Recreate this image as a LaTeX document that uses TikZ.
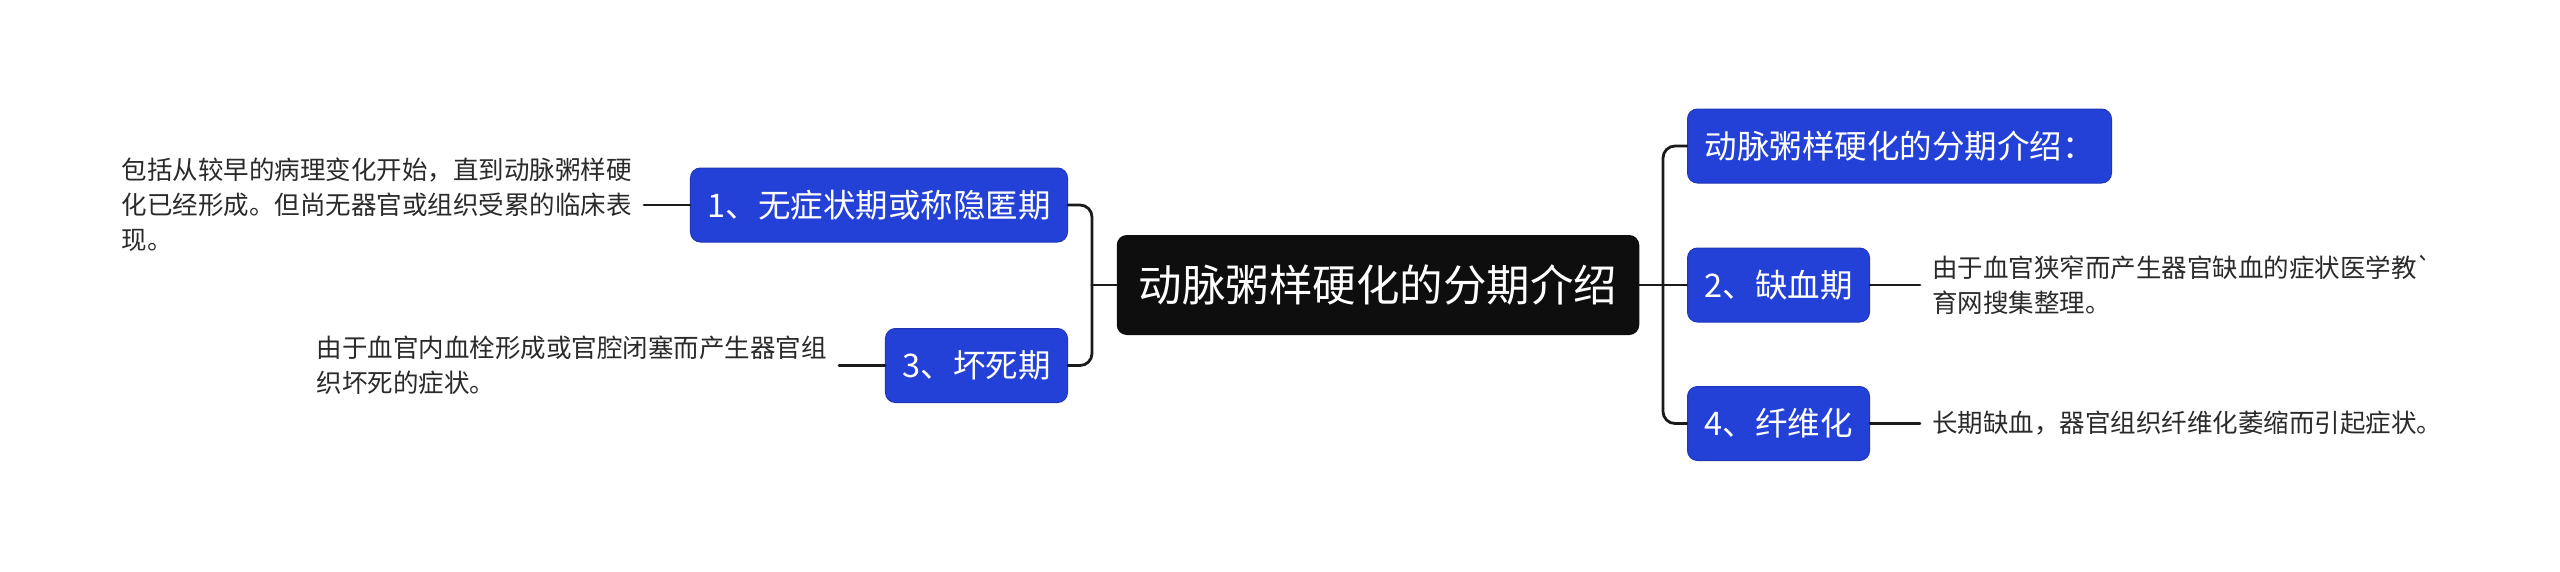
\documentclass[tikz,border=0pt]{standalone}
\usepackage{fontspec}
\setmainfont{Noto Sans CJK SC}
\newfontfamily\rawfont{Noto Sans CJK SC}

\definecolor{nodeblue}{HTML}{2441D7}
\definecolor{rootblack}{HTML}{0E0E0E}
\definecolor{linkgray}{HTML}{1A1A1A}
\definecolor{descgray}{HTML}{2A2A2A}

\begin{document}
\begin{tikzpicture}[x=1pt, y=-1pt, line cap=round, line join=round,
  rootnode/.style={fill=rootblack, rounded corners=10pt, text=white, inner xsep=22pt, minimum height=100pt, font=\fontsize{43.5}{52}\selectfont},
  subnode/.style={fill=nodeblue, draw=nodeblue!85!black, line width=1pt, rounded corners=10pt, text=white, inner xsep=17pt, minimum height=74pt, font=\fontsize{32.5}{40}\selectfont},
  desc/.style={text=descgray, align=left, inner xsep=12pt, inner ysep=0pt, font=\fontsize{25.5}{35}\selectfont},
  link/.style={draw=linkgray, line width=2.8pt, rounded corners=12pt}]

  %% ════ 中心主题 ════
  \node[rootnode] (root) at (1378,285) {动脉粥样硬化的分期介绍};

  %% ════ 左侧分支 ════
  \node[subnode, anchor=east] (stage1) at (1068,205) {1、无症状期或称隐匿期};
  \node[subnode, anchor=east] (stage3) at (1068,365.5) {3、坏死期};

  \node[desc, anchor=east] (desc1) at (644,205) {包括从较早的病理变化开始，直到动脉粥样硬\\化已经形成。但尚无器官或组织受累的临床表\\现。};
  \node[desc, anchor=east] (desc3) at (839,365.5) {由于血官内血栓形成或官腔闭塞而产生器官组\\织坏死的症状。};

  %% ════ 右侧分支 ════
  \node[subnode, anchor=west] (intro)  at (1687,146) {动脉粥样硬化的分期介绍：};
  \node[subnode, anchor=west] (stage2) at (1687,285) {2、缺血期};
  \node[subnode, anchor=west] (stage4) at (1687,423.5) {4、纤维化};

  \node[desc, anchor=west] (desc2) at (1920,285) {由于血官狭窄而产生器官缺血的症状医学教{\rawfont`}\\育网搜集整理。};
  \node[desc, anchor=west] (desc4) at (1920,423.5) {长期缺血，器官组织纤维化萎缩而引起症状。};

  %% ════ 连线 ════
  \coordinate (lhub) at (1092,285);
  \coordinate (rhub) at (1663,285);

  \draw[link] (root.west) -- (lhub);
  \draw[link] (lhub) |- (stage1.east);
  \draw[link] (lhub) |- (stage3.east);

  \draw[link] (root.east) -- (rhub);
  \draw[link] (rhub) |- (intro.west);
  \draw[link] (rhub) -- (stage2.west);
  \draw[link] (rhub) |- (stage4.west);

  \draw[link] (desc1.east) -- (stage1.west);
  \draw[link] (desc3.east) -- (stage3.west);
  \draw[link] (stage2.east) -- (desc2.west);
  \draw[link] (stage4.east) -- (desc4.west);

  % 钉死画布
  \pgfresetboundingbox
  \path[use as bounding box] (0,0) rectangle (2560,571);
\end{tikzpicture}
\end{document}
